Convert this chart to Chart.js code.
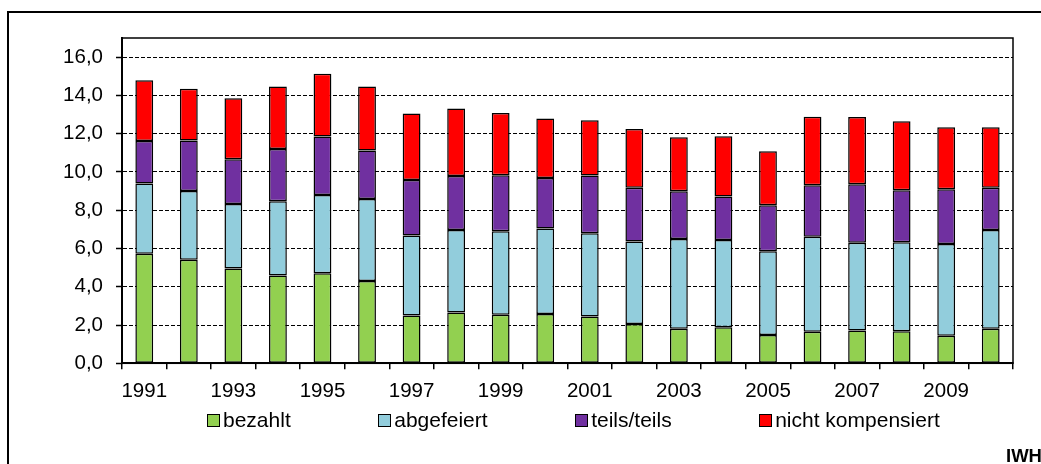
<!DOCTYPE html>
<html>
<head>
<meta charset="utf-8">
<script src="https://cdn.jsdelivr.net/npm/chart.js@4.4.1/dist/chart.umd.min.js"></script>
<style>
  html, body { margin: 0; padding: 0; background: #fff; overflow: hidden; }
  #wrap { position: relative; width: 1041px; height: 464px; overflow: hidden; }
  #frame { position: absolute; left: 7px; top: 11px; width: 1200px; height: 600px; border-left: 2px solid #000; border-top: 2px solid #000; }
  canvas { position: absolute; left: 0; top: 0; }
  #legend { position: absolute; left: 207px; top: 409px; display: flex; font: 21px/21px "Liberation Sans", Arial, sans-serif; color: #000; }
  .item { display: flex; align-items: center; margin-right: 87.5px; white-space: nowrap; }
  .box { width: 11px; height: 11px; border: 1px solid #000; margin-right: 3px; margin-top: 2px; }
  #src { position: absolute; left: 1006px; top: 447px; font: bold 18.5px/18.5px "Liberation Sans", Arial, sans-serif; white-space: nowrap; color: #000; }
</style>
</head>
<body>
<div id="wrap">
  <div id="frame"></div>
  <canvas id="chart" width="1041" height="464"></canvas>
  <div id="legend"></div>
  <div id="src">IWH</div>
</div>
<script>
// Jahre (Kategorien)
const years = ['1991', '1992', '1993', '1994', '1995', '1996', '1997', '1998', '1999', '2000',
               '2001', '2002', '2003', '2004', '2005', '2006', '2007', '2008', '2009', '2010'];

// Überstunden je Woche, nach Art der Kompensation
const bezahlt          = [5.72, 5.41, 4.96, 4.59, 4.70, 4.30, 2.50, 2.66, 2.54, 2.57, 2.45, 2.05, 1.81, 1.89, 1.48, 1.65, 1.72, 1.67, 1.44, 1.81];
const abgefeiert       = [3.67, 3.60, 3.37, 3.88, 4.10, 4.29, 4.18, 4.31, 4.36, 4.48, 4.35, 4.32, 4.68, 4.55, 4.37, 4.96, 4.58, 4.66, 4.80, 5.15];
const teilsTeils       = [2.23, 2.63, 2.33, 2.73, 3.05, 2.53, 2.90, 2.82, 2.93, 2.64, 3.01, 2.80, 2.50, 2.28, 2.41, 2.70, 3.06, 2.72, 2.86, 2.21];
const nichtKompensiert = [3.17, 2.71, 3.19, 3.26, 3.28, 3.35, 3.48, 3.52, 3.25, 3.10, 2.89, 3.08, 2.82, 3.14, 2.82, 3.58, 3.51, 3.60, 3.23, 3.16];

// nur jedes zweite Jahr beschriften
const yearLabels = years.map((y, i) => i % 2 === 0 ? y : '');

const FONT = '"Liberation Sans", Arial, sans-serif';
Chart.defaults.font.family = FONT;
Chart.defaults.color = '#000';

// Rahmen um die Zeichnungsfläche (oben und rechts)
const plotBox = {
    id: 'plotBox',
    afterDatasetsDraw(chart) {
        const a = chart.chartArea;
        const ctx = chart.ctx;
        ctx.save();
        ctx.strokeStyle = '#000';
        ctx.lineWidth = 1.5;
        ctx.strokeRect(a.left, a.top, a.right - a.left, a.bottom - a.top);
        ctx.restore();
    }
};

function makeSet(label, data, color) {
    return {
        label: label,
        data: data,
        backgroundColor: color,
        borderColor: '#000',
        borderWidth: 1.5,
        borderSkipped: false,
        barPercentage: 0.4,
        categoryPercentage: 1.0,
        stack: 'a'
    };
}

const ctx = document.getElementById('chart').getContext('2d');
const chart = new Chart(ctx, {
    type: 'bar',
    data: {
        labels: years,
        datasets: [
            makeSet('bezahlt', bezahlt, '#92D050'),
            makeSet('abgefeiert', abgefeiert, '#92CDDC'),
            makeSet('teils/teils', teilsTeils, '#7030A0'),
            makeSet('nicht kompensiert', nichtKompensiert, '#FF0000')
        ]
    },
    options: {
        responsive: false,
        devicePixelRatio: 1,
        animation: false,
        layout: {
            padding: { left: 50, right: 28, top: 38, bottom: 60.7 }
        },
        plugins: {
            legend: { display: false },
            tooltip: { enabled: false }
        },
        scales: {
            x: {
                stacked: true,
                afterFit: s => { s.height = 40; },
                grid: {
                    offset: true,
                    drawOnChartArea: false,
                    drawTicks: true,
                    tickLength: 6,
                    color: '#000',
                    lineWidth: 1.5
                },
                border: { display: true, color: '#000', width: 2 },
                ticks: {
                    autoSkip: false,
                    maxRotation: 0,
                    padding: 10,
                    font: { size: 20.5 },
                    color: '#000',
                    callback: (v, i) => yearLabels[i]
                }
            },
            y: {
                stacked: true,
                min: 0,
                max: 17,
                afterFit: s => { s.width = 72; },
                grid: {
                    color: '#000',
                    lineWidth: 1,
                    drawTicks: true,
                    tickLength: 6,
                    tickColor: '#000',
                    tickWidth: 1.5
                },
                border: { display: true, color: '#000', width: 2, dash: [4, 2] },
                ticks: {
                    stepSize: 2,
                    includeBounds: false,
                    padding: 13,
                    font: { size: 20.5 },
                    color: '#000',
                    callback: v => v.toFixed(1).replace('.', ',')
                }
            }
        }
    },
    plugins: [plotBox]
});

// Legende als HTML aus den Datensätzen erzeugen
const legendEl = document.getElementById('legend');
chart.data.datasets.forEach(ds => {
    const item = document.createElement('div');
    item.className = 'item';
    const box = document.createElement('span');
    box.className = 'box';
    box.style.background = ds.backgroundColor;
    const txt = document.createElement('span');
    txt.textContent = ds.label;
    item.appendChild(box);
    item.appendChild(txt);
    legendEl.appendChild(item);
});
</script>
</body>
</html>
